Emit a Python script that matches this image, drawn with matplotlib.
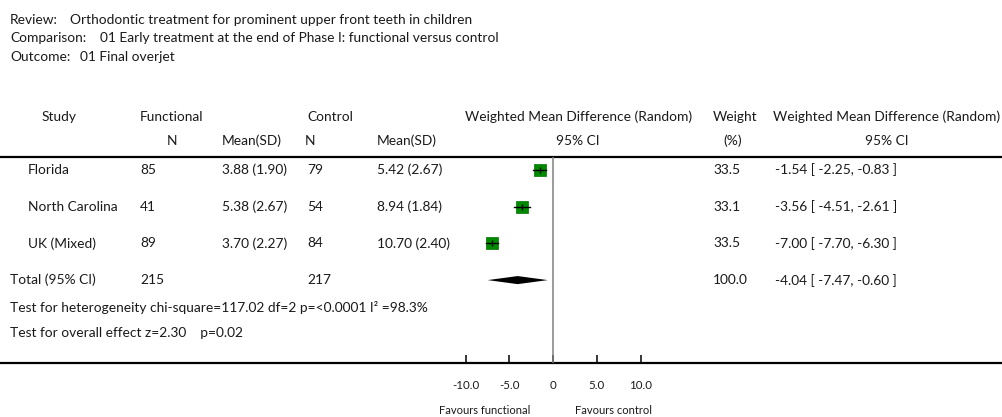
import matplotlib.pyplot as plt
from matplotlib.patches import Polygon

# study level data
studies = ["Florida", "North Carolina", "UK (Mixed)"]
func_n = [85, 41, 89]
func_mean = [3.88, 5.38, 3.70]
func_sd = [1.90, 2.67, 2.27]
ctrl_n = [79, 54, 84]
ctrl_mean = [5.42, 8.94, 10.70]
ctrl_sd = [2.67, 1.84, 2.40]
wmd = [-1.54, -3.56, -7.00]
ci_lo = [-2.25, -4.51, -7.70]
ci_hi = [-0.83, -2.61, -6.30]
weight = [33.5, 33.1, 33.5]

# pooled result
total_func_n = 215
total_ctrl_n = 217
total_wmd = -4.04
total_lo = -7.47
total_hi = -0.60
total_weight = 100.0

x_ticks = [-10, -5, 0, 5, 10]
x_ticklabels = ["-10.0", "-5.0", "0", "5.0", "10.0"]

FONT = "Lato"
FS = 9.9
TXT = "#1a1a1a"

W, H = 1002, 417
fig = plt.figure(figsize=(W / 100, H / 100), dpi=100)

# overlay in pixel coordinates for the table text and rules
bg = fig.add_axes([0, 0, 1, 1])
bg.set_xlim(0, W)
bg.set_ylim(H, 0)
bg.axis("off")

def t(x, y, s, ha="left", size=FS):
    bg.text(x, y, s, ha=ha, va="center", fontsize=size, family=FONT, color=TXT)

# header block
t(10, 20, "Review:")
t(70, 20, "Orthodontic treatment for prominent upper front teeth in children")
t(10, 38, "Comparison:")
t(100, 38, "01 Early treatment at the end of Phase I: functional versus control")
t(10, 57, "Outcome:")
t(80, 57, "01 Final overjet")

# column headings
t(59, 117, "Study", ha="center")
t(140, 117, "Functional")
t(172, 141, "N", ha="center")
t(222, 141, "Mean(SD)")
t(307, 117, "Control")
t(310, 141, "N", ha="center")
t(377, 141, "Mean(SD)")
t(579, 117, "Weighted Mean Difference (Random)", ha="center")
t(578, 141, "95% CI", ha="center")
t(735, 117, "Weight", ha="center")
t(733, 141, "(%)", ha="center")
t(887, 117, "Weighted Mean Difference (Random)", ha="center")
t(887, 141, "95% CI", ha="center")

bg.plot([0, W], [157, 157], color="black", lw=1.6, solid_capstyle="butt")
bg.plot([0, W], [363, 363], color="black", lw=1.6, solid_capstyle="butt")

row0, row_step = 170, 36.7
for i, name in enumerate(studies):
    y = row0 + i * row_step
    t(28, y, name)
    t(140, y, f"{func_n[i]}")
    t(222, y, f"{func_mean[i]:.2f} ({func_sd[i]:.2f})")
    t(307, y, f"{ctrl_n[i]}")
    t(377, y, f"{ctrl_mean[i]:.2f} ({ctrl_sd[i]:.2f})")
    t(713, y, f"{weight[i]:.1f}")
    t(775, y, f"{wmd[i]:.2f} [ {ci_lo[i]:.2f}, {ci_hi[i]:.2f} ]")

y_tot = row0 + len(studies) * row_step
t(10, y_tot, "Total (95% CI)")
t(140, y_tot, f"{total_func_n}")
t(307, y_tot, f"{total_ctrl_n}")
t(713, y_tot, f"{total_weight:.1f}")
t(775, y_tot, f"{total_wmd:.2f} [ {total_lo:.2f}, {total_hi:.2f} ]")
t(10, 308, "Test for heterogeneity chi-square=117.02 df=2 p=<0.0001 I\u00b2 =98.3%")
t(10, 333, "Test for overall effect z=2.30    p=0.02")

# forest panel: zero at x=553 px, 8.75 px per unit
zero_px, px_per_unit = 553, 8.75
xmin, xmax = -12, 12
left_px = zero_px + xmin * px_per_unit
width_px = (xmax - xmin) * px_per_unit
top_px, bot_px = 157, 363
ax = fig.add_axes([left_px / W, 1 - bot_px / H, width_px / W, (bot_px - top_px) / H])
ax.set_xlim(xmin, xmax)
ax.set_ylim((bot_px - row0) / row_step, (top_px - row0) / row_step)
ax.patch.set_alpha(0)
for sp in ax.spines.values():
    sp.set_visible(False)

ax.axvline(0, color="#808080", lw=1.1)

for i in range(len(studies)):
    ms = 8.6 * (weight[i] / 33.5) ** 0.5
    ax.plot(wmd[i], i, marker="s", ms=ms, color="#008a00", mec="#007000", mew=0.5)
    ax.plot([ci_lo[i], ci_hi[i]], [i, i], color="black", lw=1.0)
    ax.plot(wmd[i], i, marker="|", ms=5, color="black", mew=1.0)

yd = len(studies)
h = 0.11
ax.add_patch(Polygon([[total_lo, yd], [total_wmd, yd - h], [total_hi, yd], [total_wmd, yd + h]],
                     closed=True, color="black", lw=0))

ax.set_yticks([])
ax.set_xticks(x_ticks)
ax.set_xticklabels(x_ticklabels, family=FONT, fontsize=8.3, color=TXT)
ax.tick_params(axis="x", direction="in", length=6, width=1.1, pad=12, color="black")

t(485, 410, "Favours functional", ha="center", size=8)
t(614, 410, "Favours control", ha="center", size=8)

fig.savefig("out.png", dpi=100)
